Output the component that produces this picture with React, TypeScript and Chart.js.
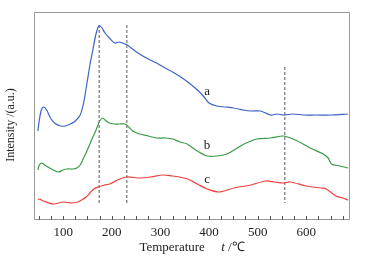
import React, { useEffect, useRef } from "react";
import { Chart, registerables } from "chart.js";

Chart.register(...registerables);

// Series a (blue)
const tempA = [48, 51, 55, 60, 66, 75, 85, 95, 104, 115, 125, 135, 142, 149, 155, 161, 167, 172, 176, 180, 186, 195, 206, 215, 222, 232, 240, 257, 275, 292, 310, 325, 342, 359, 376, 390, 400, 416, 435, 451, 470, 486, 506, 527, 540, 553, 573, 595, 620, 650, 686];
const intensityA = [89, 100, 110, 113, 110, 101, 96, 94, 94, 96, 99, 105, 117, 137, 155, 170, 185, 193, 194, 192, 187, 182, 177, 178, 177, 175, 172, 166, 161, 157, 152, 148, 143, 137, 130, 123, 117, 114, 113, 112, 110, 109, 109, 105, 106, 105, 106, 105, 105, 105, 106];

// Series b (green)
const tempB = [48, 51, 56, 65, 80, 90, 100, 108, 120, 128, 135, 141, 148, 155, 160, 165, 170, 175, 181, 186, 195, 205, 215, 227, 235, 243, 257, 275, 292, 310, 325, 340, 355, 376, 396, 416, 437, 455, 472, 498, 527, 553, 573, 590, 608, 635, 645, 652, 669, 686];
const intensityB = [50, 55, 57, 54, 50, 48, 50, 51, 51, 52, 55, 61, 68, 76, 82, 87, 93, 99, 102, 100, 97, 96, 96, 96, 93, 89, 86, 84, 82, 82, 81, 78, 76, 69, 64, 64, 66, 71, 76, 81, 82, 84, 81, 77, 72, 66, 62, 56, 54, 52];

// Series c (red)
const tempC = [48, 51, 59, 80, 100, 118, 130, 138, 147, 155, 163, 172, 185, 196, 212, 230, 257, 280, 305, 325, 339, 356, 376, 396, 420, 451, 486, 516, 535, 553, 567, 600, 630, 641, 661, 675, 686];
const intensityC = [20, 21, 19, 16, 18, 17, 18, 20, 23, 27, 31, 33, 35, 36, 40, 43, 42, 43, 45, 44, 43, 41, 36, 31, 28, 32, 35, 39, 38, 37, 38, 34, 32, 31, 24, 22, 20];

// Reference dashed lines (temperature, top intensity, bottom intensity)
const markerTemps = [174, 231, 556];
const markerTops = [195, 195, 153];
const markerBottoms = [17, 17, 17];

const xTickValues = [100, 200, 300, 400, 500, 600];
const minorTickValues = [50, 75, 100, 125, 150, 175, 200, 225, 250, 275, 300, 325, 350, 375, 400, 425, 450, 475, 500, 525, 550, 575, 600, 625, 650, 675];

const curveLabels = ["a", "b", "c"];
const curveLabelTemps = [396, 396, 396];
const curveLabelIntensity = [128, 74, 40];

const FONT = "'Liberation Serif', 'Times New Roman', serif";

function pts(xs: number[], ys: number[]) {
  return xs.map((x, i) => ({ x, y: ys[i] }));
}

const decorPlugin = {
  id: "decor",
  afterDraw(chart: any) {
    const { ctx, chartArea, scales } = chart;
    const xs = scales.x;
    const ys = scales.y;
    ctx.save();
    // frame
    ctx.strokeStyle = "#9a9a9a";
    ctx.lineWidth = 1;
    ctx.strokeRect(chartArea.left + 0.5, chartArea.top + 0.5, chartArea.right - chartArea.left - 1, chartArea.bottom - chartArea.top - 1);
    // inward minor ticks
    ctx.strokeStyle = "#555";
    ctx.beginPath();
    minorTickValues.forEach((v) => {
      const px = Math.round(xs.getPixelForValue(v)) + 0.5;
      ctx.moveTo(px, chartArea.bottom);
      ctx.lineTo(px, chartArea.bottom - 4);
    });
    ctx.stroke();
    // curve labels
    ctx.fillStyle = "#222";
    ctx.font = `13px ${FONT}`;
    ctx.textAlign = "center";
    ctx.textBaseline = "middle";
    curveLabels.forEach((l, i) => {
      ctx.fillText(l, xs.getPixelForValue(curveLabelTemps[i]), ys.getPixelForValue(curveLabelIntensity[i]));
    });
    // x title
    const cx = (chartArea.left + chartArea.right) / 2;
    const ty = 248;
    ctx.textAlign = "left";
    ctx.font = `13px ${FONT}`;
    const p1 = "Temperature";
    const gap = "     ";
    ctx.font = `italic 13px ${FONT}`;
    const wT = ctx.measureText("t").width;
    ctx.font = `13px ${FONT}`;
    const w1 = ctx.measureText(p1).width;
    const wg = ctx.measureText(gap).width;
    const p3 = " /\u2103";
    const w3 = ctx.measureText(p3).width;
    const total = w1 + wg + wT + w3;
    let x0 = cx - total / 2;
    ctx.fillText(p1, x0, ty);
    x0 += w1 + wg;
    ctx.font = `italic 13px ${FONT}`;
    ctx.fillText("t", x0, ty);
    x0 += wT;
    ctx.font = `13px ${FONT}`;
    ctx.fillText(p3, x0, ty);
    // y title
    ctx.save();
    ctx.translate(11, 125);
    ctx.rotate(-Math.PI / 2);
    ctx.textAlign = "center";
    ctx.font = `12px ${FONT}`;
    ctx.fillText("Intensity /(a.u.)", 0, 0);
    ctx.restore();
    ctx.restore();
  },
};

export default function App() {
  const ref = useRef<HTMLCanvasElement | null>(null);
  useEffect(() => {
    if (!ref.current) return;
    const lineStyle = (color: string) => ({
      borderColor: color,
      backgroundColor: color,
      borderWidth: 1.2,
      pointRadius: 0,
      tension: 0.3,
      fill: false,
    });
    const markerSets = markerTemps.map((t, i) => ({
      data: [
        { x: t, y: markerTops[i] },
        { x: t, y: markerBottoms[i] },
      ],
      borderColor: "#444",
      borderWidth: 0.9,
      borderDash: [3, 2],
      pointRadius: 0,
      fill: false,
    }));
    const chart = new Chart(ref.current, {
      type: "line",
      data: {
        datasets: [
          { data: pts(tempA, intensityA), ...lineStyle("#3c62c8") },
          { data: pts(tempB, intensityB), ...lineStyle("#3a9a45") },
          { data: pts(tempC, intensityC), ...lineStyle("#f0403c") },
          ...markerSets,
        ],
      },
      options: {
        responsive: false,
        animation: false,
        layout: { padding: { left: 34, right: 25, top: 12, bottom: 0 } },
        plugins: { legend: { display: false }, tooltip: { enabled: false } },
        scales: {
          x: {
            type: "linear",
            min: 40,
            max: 690,
            grid: { display: false, drawTicks: false },
            border: { display: false },
            afterBuildTicks: (s: any) => {
              s.ticks = xTickValues.map((v) => ({ value: v }));
            },
            afterFit: (s: any) => {
              s.height = 42;
            },
            ticks: {
              padding: 5,
              color: "#222",
              font: { family: FONT, size: 13 },
              maxRotation: 0,
            },
          },
          y: {
            type: "linear",
            display: false,
            min: 0,
            max: 208,
          },
        },
      },
      plugins: [decorPlugin],
    } as any);
    return () => chart.destroy();
  }, []);
  return (
    <div style={{ position: "absolute", left: 0, top: 0, width: 375, height: 262, background: "#fff" }}>
      <canvas ref={ref} width={375} height={262} />
    </div>
  );
}
